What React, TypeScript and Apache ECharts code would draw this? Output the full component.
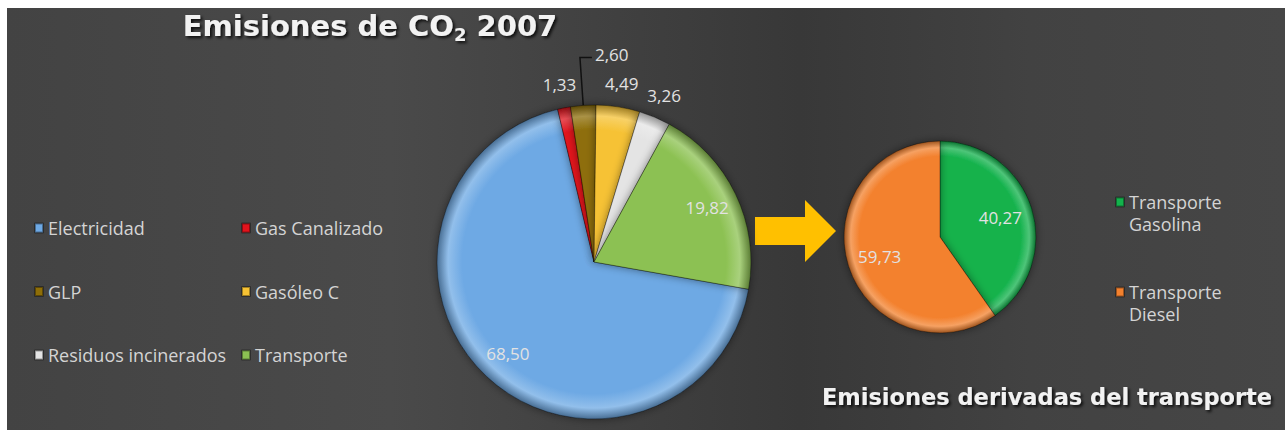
import React, { useEffect, useRef } from "react";
import * as echarts from "echarts";

const mainCategories = ["Electricidad", "Gas Canalizado", "GLP", "Gasóleo C", "Residuos incinerados", "Transporte"];
const mainValues = [68.5, 1.33, 2.6, 4.49, 3.26, 19.82];
const mainColors = ["#6ea9e4", "#e2131c", "#8e6e08", "#f6c234", "#e4e4e4", "#8cc152"];
const legendColLeft = ["Electricidad", "GLP", "Residuos incinerados"];
const legendColRight = ["Gas Canalizado", "Gasóleo C", "Transporte"];

const transportCategories = ["Transporte Gasolina", "Transporte Diesel"];
const transportValues = [40.27, 59.73];
const transportColors = ["#13b24c", "#f3812e"];

const C1 = [594, 262];
const R1 = 157;
const START1 = 100; // degrees clockwise from 12 o'clock
const C2 = [940, 237];
const R2 = 96;

function mix(hex: string, target: number, t: number) {
  const n = parseInt(hex.slice(1), 16);
  const ch = [(n >> 16) & 255, (n >> 8) & 255, n & 255].map((v) => Math.round(v + (target - v) * t));
  return `rgb(${ch[0]},${ch[1]},${ch[2]})`;
}

function shade(color: string, c: number[], r: number) {
  return {
    type: "radial",
    x: c[0],
    y: c[1],
    r,
    global: true,
    colorStops: [
      { offset: 0, color },
      { offset: 0.84, color },
      { offset: 0.93, color: mix(color, 255, 0.25) },
      { offset: 1, color: mix(color, 0, 0.35) },
    ],
  };
}

const fmt = (p: any) => Number(p.value).toFixed(2).replace(".", ",");
const FONT = "Open Sans";

function midAngle(values: number[], i: number, start: number) {
  const total = values.reduce((a, b) => a + b, 0);
  let acc = 0;
  for (let k = 0; k < i; k++) acc += values[k];
  return start + ((acc + values[i] / 2) / total) * 360;
}

export default function App() {
  const ref = useRef<HTMLDivElement>(null);
  useEffect(() => {
    if (!ref.current) return;
    const chart = echarts.init(ref.current, null, { renderer: "svg" });
    const insideShift = (c: number[], f: number) => (p: any) => {
      const r = p.labelRect;
      const cx = r.x + r.width / 2;
      const cy = r.y + r.height / 2;
      return { dx: (cx - c[0]) * (f - 1), dy: (cy - c[1]) * (f - 1) };
    };
    const legendStyle = { color: "#d4d4d4", fontFamily: FONT, fontSize: 18, lineHeight: 20 };
    const shadowText = {
      textShadowColor: "rgba(0,0,0,0.8)",
      textShadowBlur: 3,
      textShadowOffsetX: 2,
      textShadowOffsetY: 2,
    };
    chart.setOption({
      animation: false,
      backgroundColor: "#ffffff",
      graphic: [
        {
          type: "rect",
          z: -100,
          silent: true,
          shape: { x: 7, y: 8, width: 1278, height: 422 },
          style: {
            fill: {
              type: "linear",
              x: 0,
              y: 0,
              x2: 1,
              y2: 0,
              colorStops: [
                { offset: 0, color: "#434343" },
                { offset: 0.3, color: "#4a4a4a" },
                { offset: 0.62, color: "#383838" },
                { offset: 0.8, color: "#424242" },
                { offset: 1, color: "#464646" },
              ],
            },
          },
        },
        {
          type: "polygon",
          silent: true,
          shape: {
            points: [
              [755, 217],
              [805, 217],
              [805, 200],
              [836, 231],
              [805, 262],
              [805, 245],
              [755, 245],
            ],
          },
          style: { fill: "#ffc000" },
        },
        {
          type: "text",
          x: 370,
          y: 26,
          silent: true,
          style: {
            text: "{a|Emisiones de CO}{s|2}{a| 2007}",
            align: "center",
            verticalAlign: "middle",
            rich: {
              a: { fontFamily: "DejaVu Sans", fontWeight: "bold", fontSize: 29, fill: "#f2f2f2", ...shadowText },
              s: {
                fontFamily: "DejaVu Sans",
                fontWeight: "bold",
                fontSize: 18,
                fill: "#f2f2f2",
                padding: [16, 0, 0, 0],
                ...shadowText,
              },
            },
          },
        },
        {
          type: "text",
          x: 1047,
          y: 397,
          silent: true,
          style: {
            text: "Emisiones derivadas del transporte",
            align: "center",
            verticalAlign: "middle",
            fontFamily: "DejaVu Sans",
            fontWeight: "bold",
            fontSize: 22.5,
            fill: "#f2f2f2",
            ...shadowText,
          },
        },
      ],
      legend: [
        {
          orient: "vertical",
          left: 29,
          top: 213,
          itemWidth: 8,
          itemHeight: 9,
          itemGap: 43.5,
          icon: "rect",
          selectedMode: false,
          textStyle: legendStyle,
          data: legendColLeft.map((n) => ({ name: n, itemStyle: { color: mainColors[mainCategories.indexOf(n)] } })),
        },
        {
          orient: "vertical",
          left: 236,
          top: 213,
          itemWidth: 8,
          itemHeight: 9,
          itemGap: 43.5,
          icon: "rect",
          selectedMode: false,
          textStyle: legendStyle,
          data: legendColRight.map((n) => ({ name: n, itemStyle: { color: mainColors[mainCategories.indexOf(n)] } })),
        },
        {
          orient: "vertical",
          left: 1110,
          top: 164,
          itemWidth: 8,
          itemHeight: 9,
          itemGap: 24,
          icon: "rect",
          selectedMode: false,
          formatter: (n: string) => " \n" + n.replace(" ", "\n"),
          textStyle: { color: "#d4d4d4", fontFamily: FONT, fontSize: 18, lineHeight: 22 },
          data: transportCategories.map((n, i) => ({ name: n, itemStyle: { color: transportColors[i] } })),
        },
      ],
      series: [
        {
          type: "pie",
          center: C1,
          radius: R1,
          startAngle: 90 - START1,
          clockwise: true,
          avoidLabelOverlap: false,
          silent: true,
          emphasis: { disabled: true },
          itemStyle: { borderColor: "rgba(0,0,0,0.35)", borderWidth: 1, shadowBlur: 8, shadowColor: "rgba(0,0,0,0.45)" },
          label: { formatter: fmt, fontFamily: FONT, fontSize: 17, color: "#e2e2e2" },
          labelLayout: (p: any) => {
            const i = p.dataIndex;
            if (i === 0 || i === 5) return insideShift(C1, 0.77 / 0.5)(p);
            if (i === 2 && p.labelLinePoints) {
              const pts = p.labelLinePoints;
              const mid = pts[1];
              const end = pts[2];
              const ne = [mid[0] + Math.abs(end[0] - mid[0]), end[1]];
              return { x: ne[0] + 3, y: ne[1] - 3, align: "left", verticalAlign: "middle", labelLinePoints: [pts[0], mid, ne] };
            }
            const a = (midAngle(mainValues, i, START1) * Math.PI) / 180;
            const d = R1 + 24;
            return { x: C1[0] + Math.sin(a) * d, y: C1[1] - Math.cos(a) * d, align: "center", verticalAlign: "middle" };
          },
          data: mainCategories.map((name, i) => {
            const inside = i === 0 || i === 5;
            const leader = i === 2;
            return {
              name,
              value: mainValues[i],
              itemStyle: { color: shade(mainColors[i], C1, R1) },
              label: { position: inside ? "inside" : "outside", distanceToLabelLine: 2 },
              labelLine: leader
                ? { show: true, length: 48, length2: 12, lineStyle: { color: "#111", width: 1.5 } }
                : { show: false, length: 8, length2: 0 },
            };
          }),
        },
        {
          type: "pie",
          center: C2,
          radius: R2,
          startAngle: 90,
          clockwise: true,
          silent: true,
          emphasis: { disabled: true },
          itemStyle: { borderColor: "rgba(0,0,0,0.35)", borderWidth: 1, shadowBlur: 8, shadowColor: "rgba(0,0,0,0.45)" },
          label: { position: "inside", formatter: fmt, fontFamily: FONT, fontSize: 17, color: "#e2e2e2" },
          labelLayout: insideShift(C2, 0.62 / 0.5),
          labelLine: { show: false },
          data: transportCategories.map((name, i) => ({
            name,
            value: transportValues[i],
            itemStyle: { color: shade(transportColors[i], C2, R2) },
          })),
        },
      ],
    });
    return () => chart.dispose();
  }, []);
  return <div ref={ref} style={{ position: "fixed", left: 0, top: 0, width: 1285, height: 431 }} />;
}
